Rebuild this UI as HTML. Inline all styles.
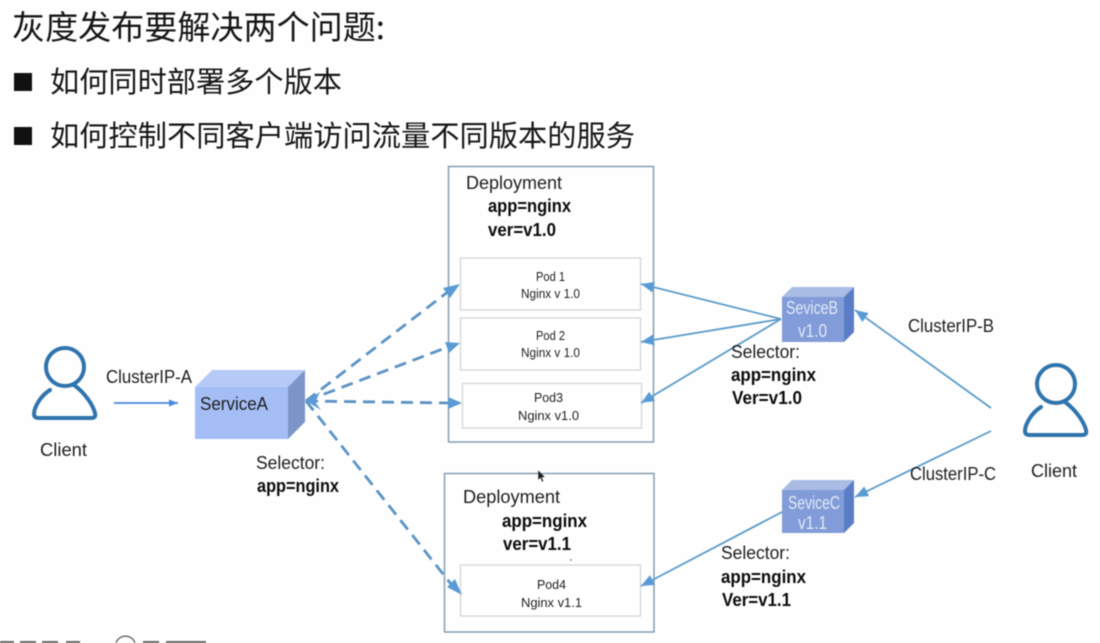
<!DOCTYPE html>
<html lang="zh">
<head>
<meta charset="utf-8">
<title>灰度发布</title>
<style>
html,body{margin:0;padding:0;background:#fefefe;width:1100px;height:643px;overflow:hidden}
svg{display:block;filter:blur(.4px)}
text{font-family:"Liberation Sans","Noto Sans CJK SC",sans-serif;fill:#1e1e1e}
.cn{font-family:"Noto Sans CJK SC","WenQuanYi Zen Hei",sans-serif;font-weight:400;fill:#161616}
.b{font-weight:bold;fill:#0c0c0c}
.l{font-size:18px}
.p{font-size:13px}
.w{fill:#e2e8f6;font-size:18px}
</style>
</head>
<body>
<svg width="1100" height="643" viewBox="0 0 1100 643" xmlns="http://www.w3.org/2000/svg">
<defs>
<marker id="a" markerUnits="userSpaceOnUse" markerWidth="14" markerHeight="12" refX="13" refY="5.5" orient="auto"><path d="M0 0L13 5.5L0 11Z" fill="#5b9bd5"/></marker>
<marker id="s" markerUnits="userSpaceOnUse" markerWidth="10" markerHeight="8" refX="9" refY="3.5" orient="auto"><path d="M0 0L9 3.5L0 7Z" fill="#4a86e0"/></marker>
</defs>

<!-- Heading -->
<text class="cn" x="12" y="39" font-size="33" textLength="373" lengthAdjust="spacingAndGlyphs">灰度发布要解决两个问题:</text>
<rect x="14" y="73" width="18" height="18" fill="#111"/>
<text class="cn" x="50" y="92" font-size="29" textLength="292" lengthAdjust="spacingAndGlyphs">如何同时部署多个版本</text>
<rect x="14" y="127" width="18" height="18" fill="#111"/>
<text class="cn" x="50" y="146" font-size="29" textLength="585" lengthAdjust="spacingAndGlyphs">如何控制不同客户端访问流量不同版本的服务</text>

<!-- Deployment boxes -->
<rect x="448.500" y="166.500" width="205" height="275.500" fill="none" stroke="#7f97ad" stroke-width="1.4"/>
<rect x="444.500" y="473.500" width="209.500" height="158.500" fill="none" stroke="#7f97ad" stroke-width="1.4"/>

<!-- Pods -->
<g fill="#fff" stroke="#cfd3d6" stroke-width="1.2">
<rect x="460.500" y="258" width="180" height="52"/>
<rect x="460.500" y="318" width="180" height="52"/>
<rect x="462.500" y="383.500" width="179" height="44.500"/>
<rect x="460.500" y="565" width="180" height="51"/>
</g>

<!-- Dashed connectors -->
<g stroke="#5b93c4" stroke-width="2.800" fill="none" stroke-dasharray="12 7">
<line x1="306" y1="401" x2="449" y2="291"/>
<line x1="306" y1="401" x2="448" y2="347"/>
<line x1="306" y1="401" x2="450" y2="403"/>
<line x1="306" y1="401" x2="451" y2="584"/>
</g>
<g fill="#5b9bd5">
<path d="M460 284L450 298L443 288Z"/>
<path d="M460 343L449 353L445 342Z"/>
<path d="M462 403L448 409L448 397Z"/>
<path d="M462 595L447 587L455 579Z"/>
<path d="M306 401L320 392L315 402L321 410Z"/>
</g>

<!-- Solid connectors -->
<g stroke="#5b9bc9" stroke-width="1.800" fill="none">
<line x1="781" y1="319" x2="641" y2="284" marker-end="url(#a)"/>
<line x1="781" y1="319" x2="641" y2="342" marker-end="url(#a)"/>
<line x1="781" y1="319" x2="641" y2="403" marker-end="url(#a)"/>
<line x1="991" y1="408" x2="855" y2="310" marker-end="url(#a)"/>
<line x1="991" y1="431" x2="855" y2="497" marker-end="url(#a)"/>
<line x1="782" y1="512" x2="641" y2="586" marker-end="url(#a)"/>
</g>
<line x1="114" y1="403" x2="178" y2="403" stroke="#4a86e0" stroke-width="1.800" marker-end="url(#s)"/>

<!-- ServiceA cube -->
<path d="M195 387L212 370H305L288 387Z" fill="#b5caf7"/>
<rect x="195" y="387" width="93" height="52" fill="#a4bef5"/>
<path d="M288 387L305 370V422L288 439Z" fill="#7c95c9"/>

<!-- ServiceB cube -->
<path d="M782 297L792 287H854L844 297Z" fill="#a9bce4"/>
<rect x="782" y="297" width="62" height="45" fill="#819cd8"/>
<path d="M844 297L854 287V332L844 342Z" fill="#5b7cc7"/>

<!-- ServiceC cube -->
<path d="M782 490L792 480H854L844 490Z" fill="#a9bce4"/>
<rect x="782" y="490" width="62" height="43" fill="#819cd8"/>
<path d="M844 490L854 480V523L844 533Z" fill="#5b7cc7"/>

<!-- Clients -->
<g fill="none" stroke="#2f74ad" stroke-width="4" stroke-linecap="round">
<circle cx="65" cy="367" r="19"/>
<path d="M50 390C40 396 34 408 34 414C34 417 36 418 39 418H91C94 418 96 417 95 413C93 405 85 393 74 385"/>
<circle cx="1056" cy="384" r="19"/>
<path d="M1041 407C1031 413 1025 425 1025 431C1025 434 1027 435 1030 435H1082C1085 435 1087 434 1086 430C1084 422 1076 410 1065 402"/>
</g>

<!-- Left labels -->
<text class="l" x="106" y="383" textLength="86" lengthAdjust="spacingAndGlyphs">ClusterIP-A</text>
<text class="l" x="200" y="410" textLength="68" lengthAdjust="spacingAndGlyphs">ServiceA</text>
<text class="l" x="40" y="456" textLength="47" lengthAdjust="spacingAndGlyphs">Client</text>
<text class="l" x="256" y="469" textLength="69" lengthAdjust="spacingAndGlyphs">Selector:</text>
<text class="l b" x="257" y="492" textLength="82" lengthAdjust="spacingAndGlyphs">app=nginx</text>

<!-- Deployment 1 -->
<text class="l" x="466" y="189" textLength="96" lengthAdjust="spacingAndGlyphs">Deployment</text>
<text class="l b" x="488" y="212" textLength="83" lengthAdjust="spacingAndGlyphs">app=nginx</text>
<text class="l b" x="488" y="236" textLength="68" lengthAdjust="spacingAndGlyphs">ver=v1.0</text>
<text class="p" x="536" y="281" textLength="29" lengthAdjust="spacingAndGlyphs">Pod 1</text>
<text class="p" x="521" y="298" textLength="59" lengthAdjust="spacingAndGlyphs">Nginx v 1.0</text>
<text class="p" x="536" y="340" textLength="29" lengthAdjust="spacingAndGlyphs">Pod 2</text>
<text class="p" x="521" y="357" textLength="59" lengthAdjust="spacingAndGlyphs">Nginx v 1.0</text>
<text class="p" x="534" y="402" textLength="29" lengthAdjust="spacingAndGlyphs">Pod3</text>
<text class="p" x="518" y="420" textLength="61" lengthAdjust="spacingAndGlyphs">Nginx v1.0</text>

<!-- Deployment 2 -->
<text class="l" x="463" y="503" textLength="97" lengthAdjust="spacingAndGlyphs">Deployment</text>
<text class="l b" x="502" y="527" textLength="85" lengthAdjust="spacingAndGlyphs">app=nginx</text>
<text class="l b" x="503" y="550" textLength="68" lengthAdjust="spacingAndGlyphs">ver=v1.1</text>
<text class="p" x="537" y="589" textLength="29" lengthAdjust="spacingAndGlyphs">Pod4</text>
<text class="p" x="521" y="607" textLength="61" lengthAdjust="spacingAndGlyphs">Nginx v1.1</text>
<circle cx="571" cy="560" r=".7" fill="#333"/>

<!-- Service labels -->
<text class="w" x="786" y="314" textLength="52" lengthAdjust="spacingAndGlyphs">SeviceB</text>
<text class="w" x="798" y="337" textLength="29" lengthAdjust="spacingAndGlyphs">v1.0</text>
<text class="w" x="788" y="509" textLength="52" lengthAdjust="spacingAndGlyphs">SeviceC</text>
<text class="w" x="798" y="529" textLength="29" lengthAdjust="spacingAndGlyphs">v1.1</text>

<!-- Right labels -->
<text class="l" x="731" y="358" textLength="69" lengthAdjust="spacingAndGlyphs">Selector:</text>
<text class="l b" x="731" y="381" textLength="85" lengthAdjust="spacingAndGlyphs">app=nginx</text>
<text class="l b" x="732" y="404" textLength="70" lengthAdjust="spacingAndGlyphs">Ver=v1.0</text>
<text class="l" x="721" y="559" textLength="69" lengthAdjust="spacingAndGlyphs">Selector:</text>
<text class="l b" x="721" y="583" textLength="85" lengthAdjust="spacingAndGlyphs">app=nginx</text>
<text class="l b" x="722" y="606" textLength="69" lengthAdjust="spacingAndGlyphs">Ver=v1.1</text>
<text class="l" x="908" y="332" textLength="86" lengthAdjust="spacingAndGlyphs">ClusterIP-B</text>
<text class="l" x="910" y="480" textLength="86" lengthAdjust="spacingAndGlyphs">ClusterIP-C</text>
<text class="l" x="1031" y="477" textLength="46" lengthAdjust="spacingAndGlyphs">Client</text>

<!-- Cursor -->
<path d="M538 470L538 480L540.500 478L542 482L543.500 481L542 477.500L545 477Z" fill="#222" stroke="#eee" stroke-width=".4"/>

<!-- Cropped bottom strip -->
<g fill="#666">
<rect x="0" y="641" width="14" height="2"/>
<rect x="20" y="641" width="16" height="2"/>
<rect x="42" y="641" width="16" height="2"/>
<rect x="66" y="641" width="14" height="2"/>
<rect x="143" y="641" width="16" height="2"/>
<rect x="166" y="641" width="40" height="2"/>
</g>
<path d="M116 643A10 10 0 0 1 135 643" fill="none" stroke="#555" stroke-width="1.200"/>
</svg>
</body>
</html>
